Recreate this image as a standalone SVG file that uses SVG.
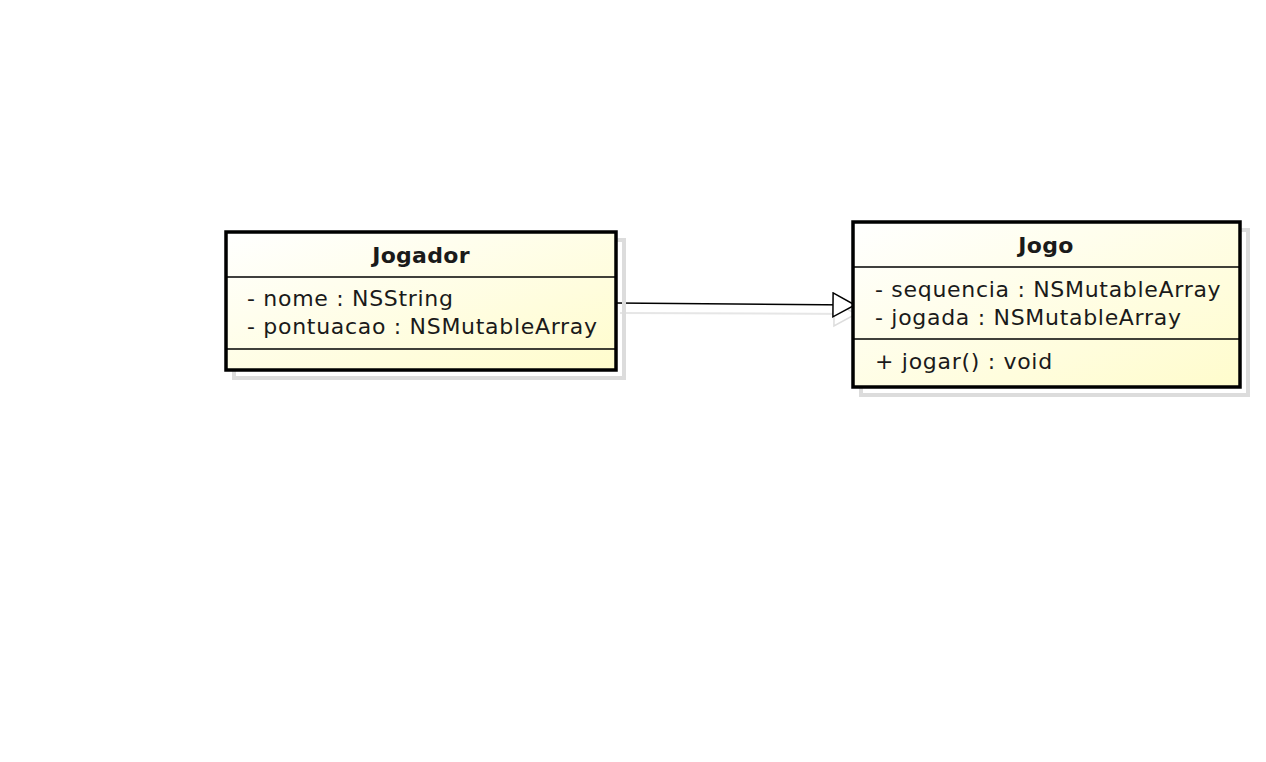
<svg xmlns="http://www.w3.org/2000/svg" width="1266" height="762" viewBox="0 0 1266 762">
<defs>
<linearGradient id="fill" x1="0" y1="0" x2="1" y2="1">
<stop offset="0" stop-color="#ffffff"/>
<stop offset="1" stop-color="#fffccc"/>
</linearGradient>
<marker id="tri" markerWidth="26" markerHeight="28" refX="23" refY="13" orient="auto" markerUnits="userSpaceOnUse">
<path d="M1,1 L23,13 L1,25 Z" fill="#fff" stroke="#000" stroke-width="1.5"/>
</marker>
<marker id="trishadow" markerWidth="26" markerHeight="28" refX="23" refY="13" orient="auto" markerUnits="userSpaceOnUse">
<path d="M1,1 L23,13 L1,25 Z" fill="#fff" stroke="#ddd" stroke-width="1.5"/>
</marker>
</defs>
<style>
.shadow{fill:none;stroke:#dcdcdc;stroke-width:4}
.box{fill:url(#fill);stroke:#000;stroke-width:3.5}
.sep{stroke:#000;stroke-width:1.5}
text{font-family:"DejaVu Sans",Verdana,sans-serif;font-size:22px;letter-spacing:0.7px;fill:#1a1a1a}
.title{font-weight:bold;text-anchor:middle;letter-spacing:0.3px}
</style>
<rect width="1266" height="762" fill="#fff"/>
<g id="connectors">
<line x1="620" y1="313" x2="856" y2="314" stroke="#e6e6e6" stroke-width="2" marker-end="url(#trishadow)"/>
<line x1="616" y1="303" x2="855" y2="305" stroke="#000" stroke-width="1.5" marker-end="url(#tri)"/>
</g>
<g id="Jogador">
<rect class="shadow" x="234" y="240" width="390" height="138"/>
<rect class="box" x="226" y="232" width="390" height="138"/>
<line class="sep" x1="226" y1="277" x2="616" y2="277"/>
<line class="sep" x1="226" y1="349" x2="616" y2="349"/>
<text class="title" x="421" y="263">Jogador</text>
<text x="247" y="306">- nome : NSString</text>
<text x="247" y="334">- pontuacao : NSMutableArray</text>
</g>
<g id="Jogo">
<rect class="shadow" x="861" y="230" width="387" height="165"/>
<rect class="box" x="853" y="222" width="387" height="165"/>
<line class="sep" x1="853" y1="267" x2="1240" y2="267"/>
<line class="sep" x1="853" y1="339" x2="1240" y2="339"/>
<text class="title" x="1046" y="253">Jogo</text>
<text x="875" y="297">- sequencia : NSMutableArray</text>
<text x="875" y="325">- jogada : NSMutableArray</text>
<text x="875" y="369">+ jogar() : void</text>
</g>
</svg>
